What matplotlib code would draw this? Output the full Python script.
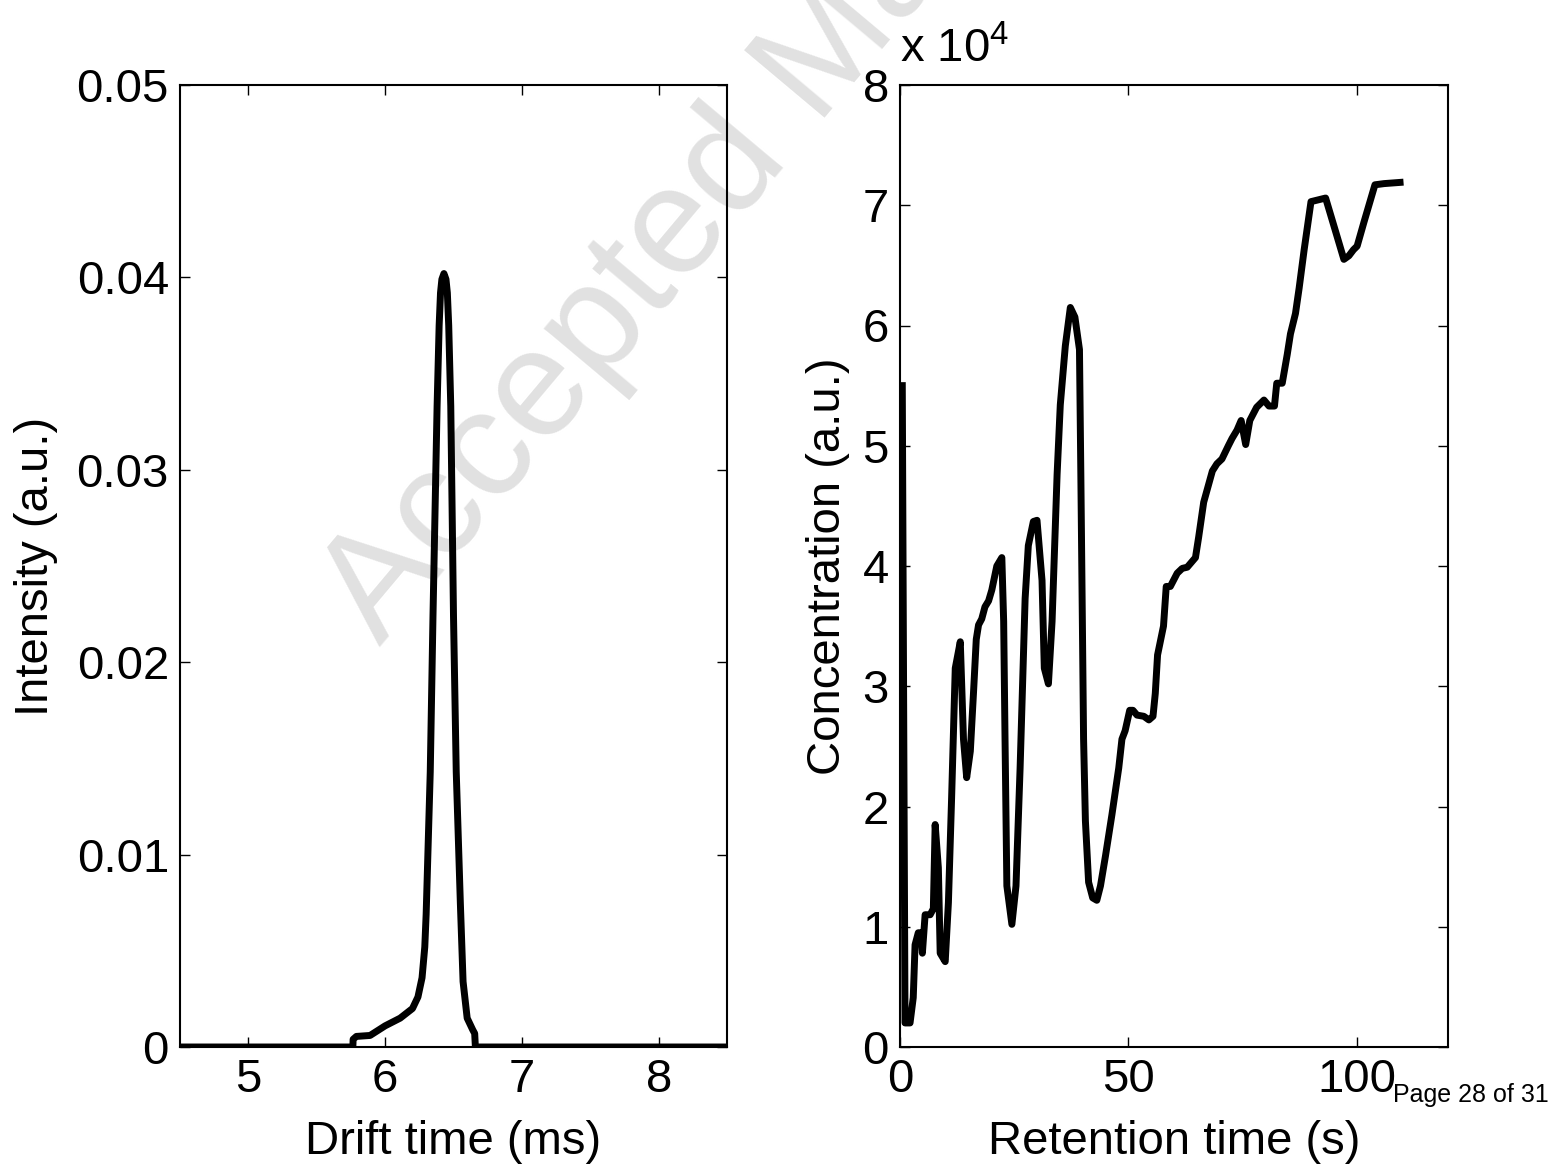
import matplotlib
matplotlib.use('Agg')
import matplotlib.pyplot as plt
import numpy as np

plt.rcParams['font.family'] = ['Liberation Sans', 'DejaVu Sans']
plt.rcParams['mathtext.fontset'] = 'custom'
plt.rcParams['mathtext.rm'] = 'Liberation Sans'

# Ion mobility spectrum (left)
drift_time = [4.5, 5.764, 5.766, 5.79, 5.89, 6.0, 6.11, 6.2, 6.24, 6.27, 6.29, 6.3,
              6.33, 6.35, 6.38, 6.395, 6.405, 6.415, 6.43, 6.445, 6.455, 6.465,
              6.48, 6.50, 6.52, 6.55, 6.57, 6.60, 6.64, 6.655, 6.66, 8.5]
intensity = [0, 0, 0.0004, 0.00055, 0.0006, 0.0011, 0.0015, 0.002, 0.0026, 0.0036,
             0.0052, 0.0069, 0.0143, 0.0224, 0.0333, 0.0375, 0.0392, 0.0399, 0.0402,
             0.0399, 0.0392, 0.0375, 0.0333, 0.0224, 0.0143, 0.0075, 0.0034, 0.0015,
             0.0009, 0.0007, 0, 0]

# Chromatogram (right), concentration in units of 1e4
ret_time = [0.5, 1.1, 2.2, 2.9, 3.3, 4.0, 4.6, 4.9, 5.5, 6.6, 7.3, 7.7, 8.4, 8.8,
            9.9, 10.6, 11.3, 12.1, 13.2, 13.9, 14.6, 15.4, 16.1, 16.7, 17.2, 17.9,
            18.6, 19.4, 20.1, 21.2, 22.3, 22.7, 23.0, 23.4, 24.5, 25.4, 26.3, 27.4,
            28.1, 29.2, 30.0, 31.1, 31.6, 32.5, 33.3, 34.4, 35.1, 36.2, 37.3, 38.3,
            39.3, 39.6, 40.2, 40.6, 41.3, 42.2, 43.1, 43.9, 45.0, 46.4, 47.9, 48.6,
            49.3, 50.3, 51.0, 51.9, 53.4, 54.5, 55.4, 55.9, 56.4, 57.7, 58.3, 59.2,
            60.7, 61.8, 62.9, 64.7, 65.4, 66.5, 68.4, 69.4, 70.5, 71.9, 72.7, 73.8,
            74.7, 75.7, 76.6, 78.1, 79.7, 80.8, 82.0, 82.5, 83.7, 84.8, 85.5, 86.6,
            87.4, 88.5, 90.0, 93.2, 95.4, 97.2, 98.3, 99.3, 100.1, 101.6, 104.0,
            106.0, 109.5]
concentration = [5.5, 0.2, 0.2, 0.41, 0.85, 0.95, 0.95, 0.78, 1.10, 1.10, 1.15,
                 1.85, 1.49, 0.78, 0.71, 1.20, 2.07, 3.15, 3.37, 2.56, 2.24, 2.46,
                 2.95, 3.39, 3.51, 3.56, 3.66, 3.71, 3.80, 4.0, 4.07, 3.54, 2.56,
                 1.34, 1.02, 1.34, 2.32, 3.73, 4.17, 4.37, 4.38, 3.88, 3.15, 3.02,
                 3.54, 4.76, 5.34, 5.83, 6.15, 6.07, 5.80, 4.76, 2.56, 1.88, 1.37,
                 1.24, 1.22, 1.34, 1.59, 1.93, 2.32, 2.56, 2.63, 2.80, 2.80, 2.76,
                 2.75, 2.72, 2.75, 2.94, 3.26, 3.50, 3.83, 3.83, 3.94, 3.98, 3.99,
                 4.07, 4.24, 4.53, 4.79, 4.85, 4.89, 5.0, 5.06, 5.13, 5.21, 5.01,
                 5.21, 5.32, 5.38, 5.33, 5.33, 5.52, 5.52, 5.76, 5.93, 6.10, 6.31,
                 6.63, 7.03, 7.06, 6.78, 6.55, 6.58, 6.63, 6.66, 6.86, 7.17, 7.18,
                 7.19]

fig = plt.figure(figsize=(15.54, 11.66), dpi=100)

# watermark behind everything
fig.text(380 / 1554, 1 - 647 / 1166, 'Accepted Manuscript', fontsize=110,
         color='#e1e1e1', rotation=50, rotation_mode='anchor',
         ha='left', va='baseline', zorder=-1)

ax1 = fig.add_axes([180 / 1554, 119 / 1166, 547 / 1554, 962 / 1166])
ax2 = fig.add_axes([900 / 1554, 119 / 1166, 548 / 1554, 962 / 1166])

fs = 34
for ax in (ax1, ax2):
    ax.patch.set_alpha(0)
    ax.tick_params(direction='in', length=7, width=1, top=True, right=True,
                   labelsize=fs, pad=8)
    for s in ax.spines.values():
        s.set_linewidth(1.5)

# left: drift time
ax1.plot(drift_time, intensity, color='black', lw=5, solid_joinstyle='round')
ax1.set_xlim(4.5, 8.5)
ax1.set_ylim(0, 0.05)
ax1.set_xticks([5, 6, 7, 8])
ax1.set_yticks([0, 0.01, 0.02, 0.03, 0.04, 0.05])
ax1.set_yticklabels(['0', '0.01', '0.02', '0.03', '0.04', '0.05'])
ax1.set_xlabel('Drift time (ms)', fontsize=fs, labelpad=13)
ax1.set_ylabel('Intensity (a.u.)', fontsize=fs, labelpad=13)

# right: retention time
ax2.plot(ret_time, concentration, color='black', lw=5, solid_joinstyle='round')
ax2.set_xlim(0, 120)
ax2.set_ylim(0, 8)
ax2.set_xticks([0, 50, 100])
ax2.set_yticks(range(9))
ax2.set_xlabel('Retention time (s)', fontsize=fs, labelpad=13)
ax2.set_ylabel('Concentration (a.u.)', fontsize=fs, labelpad=9)
ax2.text(0.0, 1.013, r'x 10$^{4}$', transform=ax2.transAxes, fontsize=fs,
         ha='left', va='bottom')

fig.text(1393 / 1554, 1 - 1102 / 1166, 'Page 28 of 31', fontsize=18,
         ha='left', va='baseline')

fig.savefig('out.png', dpi=100)
